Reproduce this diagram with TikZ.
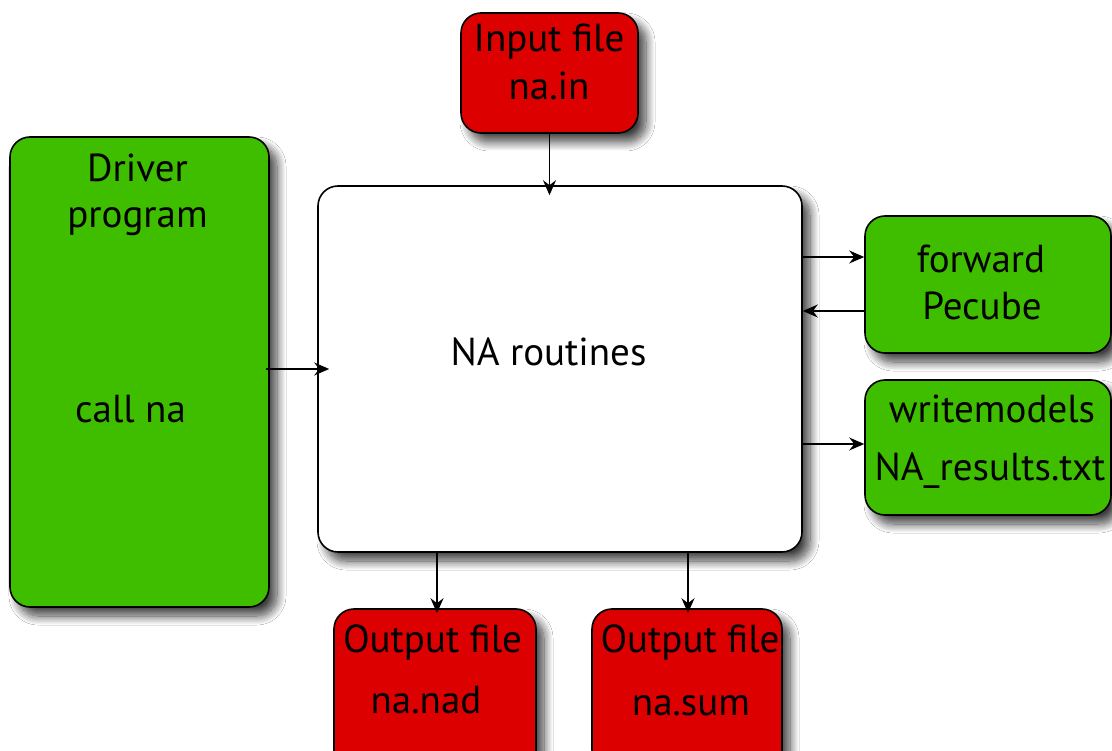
\documentclass[tikz,border=0pt]{standalone}
\usepackage{fontspec}
\setmainfont{PT Sans}
\usetikzlibrary{arrows.meta,shadows.blur,calc}
\definecolor{boxred}{HTML}{DD0000}
\definecolor{boxgreen}{HTML}{3FBE00}
\tikzset{
  box/.style={draw=black, line width=1.6pt, rounded corners=20pt, inner sep=0pt,
    blur shadow={shadow xshift=8pt, shadow yshift=-9pt, shadow blur radius=9pt, shadow blur steps=14, shadow opacity=75}},
  redbox/.style={box, fill=boxred},
  greenbox/.style={box, fill=boxgreen},
  whitebox/.style={box, fill=white},
  lbl/.style={anchor=base, inner sep=0pt, font=\fontsize{39}{46}\selectfont},
  arr/.style={line width=1.4pt, -{Stealth[length=15pt,width=13pt,inset=5pt]}}
}
\begin{document}
\begin{tikzpicture}[x=1pt,y=-1pt]
\clip (0,0) rectangle (1112,751);
\fill[white] (0,0) rectangle (1112,751);
% boxes
\node[greenbox, minimum width=259pt, minimum height=470pt] (drv) at (139.5,372) {};
\node[whitebox, minimum width=484pt, minimum height=366pt] (na) at (560,369) {};
\node[redbox, minimum width=177pt, minimum height=120pt] (in) at (549.5,73) {};
\node[greenbox, minimum width=246pt, minimum height=137pt] (fwd) at (988,284.5) {};
\node[greenbox, minimum width=246pt, minimum height=135pt] (wm) at (988,447.5) {};
\node[redbox, minimum width=202pt, minimum height=161pt] (nad) at (435,689.5) {};
\node[redbox, minimum width=190pt, minimum height=161pt] (sum) at (687,689.5) {};
% labels
\node[lbl] (tin1) at (549,52) {Input file};
\node[lbl] (tin2) at (549,100) {na.in};
\node[lbl] (td1) at (137.5,182) {Driver};
\node[lbl] (td2) at (137.5,228) {program};
\node[lbl] (td3) at (130.5,423) {call na};
\node[lbl] (tna) at (548.5,366) {NA routines};
\node[lbl] (tf1) at (981,273) {forward};
\node[lbl] (tf2) at (982,320) {Pecube};
\node[lbl] (tw1) at (992,423) {writemodels};
\node[lbl] (tw2) at (990,480) {NA\_results.txt};
\node[lbl] (to1) at (432.5,652) {Output file};
\node[lbl] (to2) at (426,713) {na.nad};
\node[lbl] (to3) at (690,652) {Output file};
\node[lbl] (to4) at (691,715) {na.sum};
% connectors
\draw[arr, shorten >=-10pt] (in.south) -- (in.south |- na.north);
\draw[arr, shorten <=-4pt, shorten >=-12pt] ([yshift=3pt]drv.east) -- ([yshift=3pt]drv.east -| na.west);
\draw[arr, shorten <=-2pt] ([yshift=27.5pt]fwd.west -| na.east) -- ([yshift=27.5pt]fwd.west);
\draw[arr] ([yshift=-26.5pt]fwd.west) -- ([yshift=-26.5pt]fwd.west -| na.east);
\draw[arr] ([yshift=3.5pt]wm.west -| na.east) -- ([yshift=3.5pt]wm.west);
\draw[arr, shorten >=-5pt] ([xshift=2pt]nad.north |- na.south) -- ([xshift=2pt]nad.north);
\draw[arr, shorten >=-5pt] ([xshift=1pt]sum.north |- na.south) -- ([xshift=1pt]sum.north);
\end{tikzpicture}
\end{document}
